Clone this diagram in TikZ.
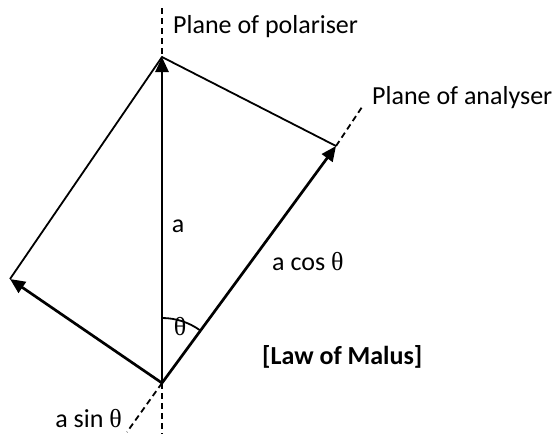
\documentclass[tikz,border=0pt]{standalone}
\usepackage{fontspec}
\setmainfont{Carlito}
\newfontfamily\thfont{Liberation Serif}
\usetikzlibrary{arrows.meta}
\newcommand{\mytheta}{{\thfont θ}}
\begin{document}
\begin{tikzpicture}[x=1pt,y=-1pt,
  vec/.style={line width=2.7pt,-{Triangle[length=15pt,width=13pt]}},
  thin line/.style={line width=1.8pt},
  dashline/.style={line width=1.8pt,dash pattern=on 6pt off 4pt},
  lbl/.style={font=\fontsize{26}{30}\selectfont,inner sep=0pt}]
\useasboundingbox (0,0) rectangle (556,434);
\coordinate (O) at (162,383);
\coordinate (P) at (162,57);
\coordinate (A) at (336,146);
\coordinate (S) at (10,279);
\coordinate (Ptop) at (162,8);
\coordinate (Obot) at (162,434);
\coordinate (Aend) at (362,107);
\coordinate (Send) at (127,432);
% dashed planes
\draw[dashline] (Ptop) -- (P);
\draw[dashline] (O) -- (Obot);
\draw[dashline] (A) -- (Aend);
\draw[dashline] (O) -- (Send);
% parallelogram sides
\draw[thin line] (S) -- (P) -- (A);
% vectors
\draw[vec] (O) -- (P);
\draw[vec] (O) -- (A);
\draw[vec] (O) -- (S);
% angle arc
\draw[thin line] ([shift={(90:-65)}]O) arc[start angle=-90,end angle=-54,radius=65];
% labels
\node[lbl,anchor=west] (pol) at (173,27) {Plane of polariser};
\node[lbl,anchor=west] (ana) at (372,98) {Plane of analyser};
\node[lbl] (a) at (178,226) {a};
\node[lbl,anchor=west] (acos) at (272,262) {a cos \mytheta};
\node[lbl] (th) at (180,327) {\mytheta};
\node[lbl,anchor=west,font=\fontsize{26}{30}\selectfont\bfseries] (law) at (262,357) {[Law of Malus]};
\node[lbl,anchor=base east] (asin) at (122,427) {a sin \mytheta};
\end{tikzpicture}
\end{document}
